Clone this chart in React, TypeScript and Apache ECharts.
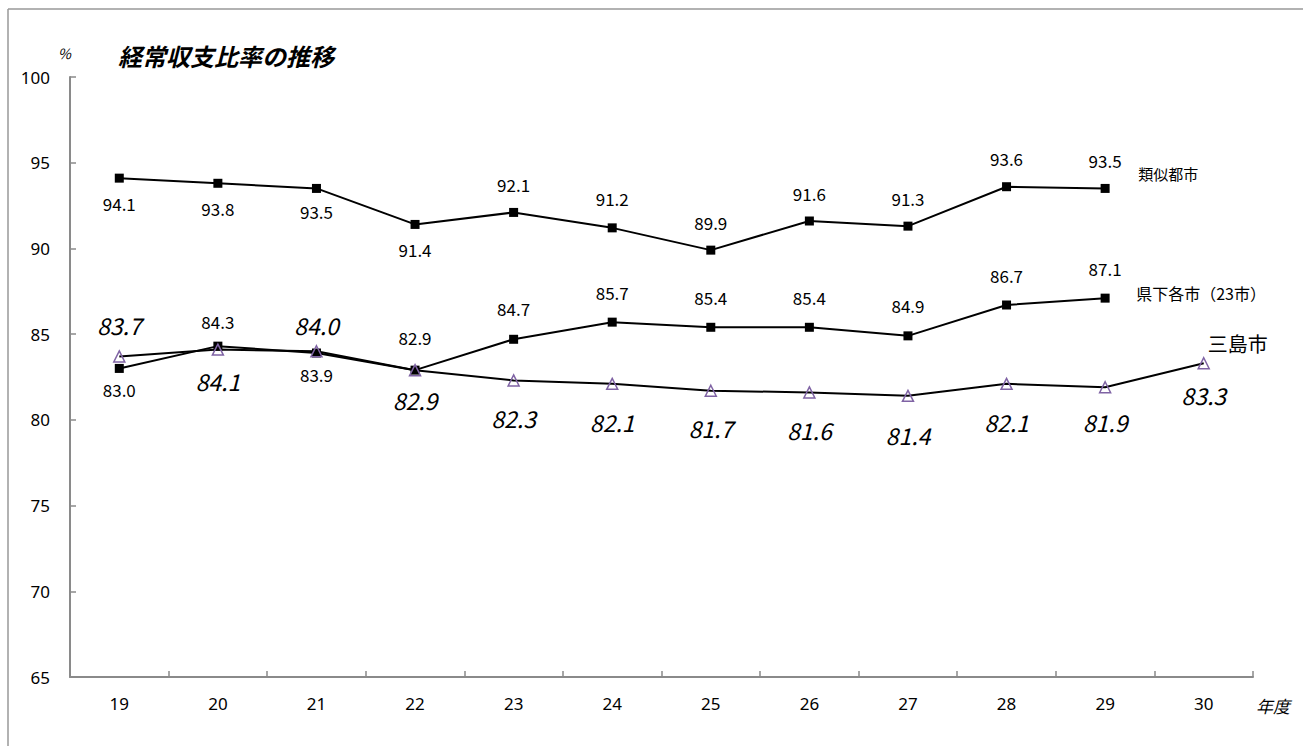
import React, { useEffect, useRef } from "react";
import * as echarts from "echarts";

const categories = ["19", "20", "21", "22", "23", "24", "25", "26", "27", "28", "29", "30"];
const ruijiName = "類似都市";
const kenkaName = "県下各市（23市）";
const mishimaName = "三島市";
const ruijiValues = [94.1, 93.8, 93.5, 91.4, 92.1, 91.2, 89.9, 91.6, 91.3, 93.6, 93.5];
const kenkaValues = [83.0, 84.3, 83.9, 82.9, 84.7, 85.7, 85.4, 85.4, 84.9, 86.7, 87.1];
const mishimaValues = [83.7, 84.1, 84.0, 82.9, 82.3, 82.1, 81.7, 81.6, 81.4, 82.1, 81.9, 83.3];
const yTicks = { min: 65, max: 100, interval: 5 };

// label placement (vertical offset of label centre from the point, px)
const ruijiLabelDy = [25, 25, 23, 25, -28, -29, -28, -28, -28, -28, -28];
const kenkaLabelDy = [21, -25, 21, -33, -31, -30, -30, -30, -30, -30, -30];
const mishimaLabelDy = [-31, 31, -26, 30, 38, 38, 37, 38, 39, 38, 35, 32];

const labelFont = "'Noto Sans CJK JP', 'Noto Sans', sans-serif";

function withLabels(values: number[], dys: number[], style: any) {
  return values.map((v, i) => ({
    value: v,
    label: {
      show: true,
      position: "inside",
      offset: [0, dys[i]],
      formatter: (p: any) => Number(p.value).toFixed(1),
      ...style,
    },
  }));
}

export default function App() {
  const ref = useRef<HTMLDivElement>(null);
  useEffect(() => {
    document.body.style.margin = "0";
    if (!ref.current) return;
    const chart = echarts.init(ref.current, null, { renderer: "svg" });
    const axisColor = "#8a8a8a";
    const blackLabel = { fontFamily: labelFont, fontSize: 17, color: "#000" };
    const italicLabel = { fontFamily: labelFont, fontSize: 23, color: "#000", fontStyle: "italic" };
    chart.setOption({
      animation: false,
      backgroundColor: "#fff",
      grid: { left: 70, right: 50, top: 77, bottom: 69 },
      xAxis: {
        type: "category",
        data: categories,
        boundaryGap: true,
        axisLine: { lineStyle: { color: axisColor, width: 2 } },
        axisTick: { show: true, inside: true, length: 6, interval: 0, lineStyle: { color: axisColor, width: 1.5 } },
        axisLabel: { color: "#000", fontSize: 17, margin: 18, fontFamily: "'Noto Sans', sans-serif" },
        splitLine: { show: false },
      },
      yAxis: {
        type: "value",
        min: yTicks.min,
        max: yTicks.max,
        interval: yTicks.interval,
        axisLine: { show: true, lineStyle: { color: axisColor, width: 2 } },
        axisTick: { show: true, inside: true, length: 6, lineStyle: { color: axisColor, width: 1.5 } },
        axisLabel: { color: "#000", fontSize: 17, margin: 20, fontFamily: "'Noto Sans', sans-serif" },
        splitLine: { show: false },
      },
      series: [
        {
          name: ruijiName,
          type: "line",
          data: withLabels(ruijiValues, ruijiLabelDy, blackLabel),
          symbol: "rect",
          symbolSize: 9,
          itemStyle: { color: "#000" },
          lineStyle: { color: "#000", width: 2 },
          endLabel: {
            show: true,
            formatter: ruijiName,
            distance: 0,
            offset: [33, -15],
            fontFamily: labelFont,
            fontSize: 15,
            color: "#000",
          },
          z: 2,
        },
        {
          name: kenkaName,
          type: "line",
          data: withLabels(kenkaValues, kenkaLabelDy, blackLabel),
          symbol: "rect",
          symbolSize: 9,
          itemStyle: { color: "#000" },
          lineStyle: { color: "#000", width: 2 },
          endLabel: {
            show: true,
            formatter: kenkaName,
            distance: 0,
            offset: [31, -5],
            fontFamily: labelFont,
            fontSize: 16,
            color: "#000",
          },
          z: 2,
        },
        {
          name: mishimaName,
          type: "line",
          data: withLabels(mishimaValues, mishimaLabelDy, italicLabel),
          symbol: "triangle",
          symbolSize: 11,
          itemStyle: { color: "rgba(0,0,0,0)", borderColor: "#7f63a4", borderWidth: 1.5 },
          lineStyle: { color: "#000", width: 2 },
          endLabel: {
            show: true,
            formatter: mishimaName,
            distance: 0,
            offset: [4, -20],
            fontFamily: labelFont,
            fontSize: 20,
            color: "#000",
          },
          z: 3,
        },
      ],
      graphic: [
        { type: "line", shape: { x1: 8, y1: 9, x2: 1303, y2: 9 }, style: { stroke: "#999", lineWidth: 1.5 } },
        { type: "line", shape: { x1: 8, y1: 9, x2: 8, y2: 746 }, style: { stroke: "#999", lineWidth: 1.5 } },
        {
          type: "text",
          left: 118,
          top: 43,
          style: {
            text: "経常収支比率の推移",
            fontFamily: labelFont,
            fontSize: 24,
            fontWeight: "bold",
            fontStyle: "italic",
            fill: "#000",
          },
        },
        {
          type: "text",
          left: 58,
          top: 46,
          style: { text: "%", fontFamily: labelFont, fontSize: 14, fontStyle: "italic", fill: "#000" },
        },
        {
          type: "text",
          left: 1256,
          top: 697,
          style: { text: "年度", fontFamily: labelFont, fontSize: 17, fontStyle: "italic", fill: "#000" },
        },
      ],
    });
    return () => chart.dispose();
  }, []);
  return <div ref={ref} style={{ width: 1303, height: 746 }} />;
}
